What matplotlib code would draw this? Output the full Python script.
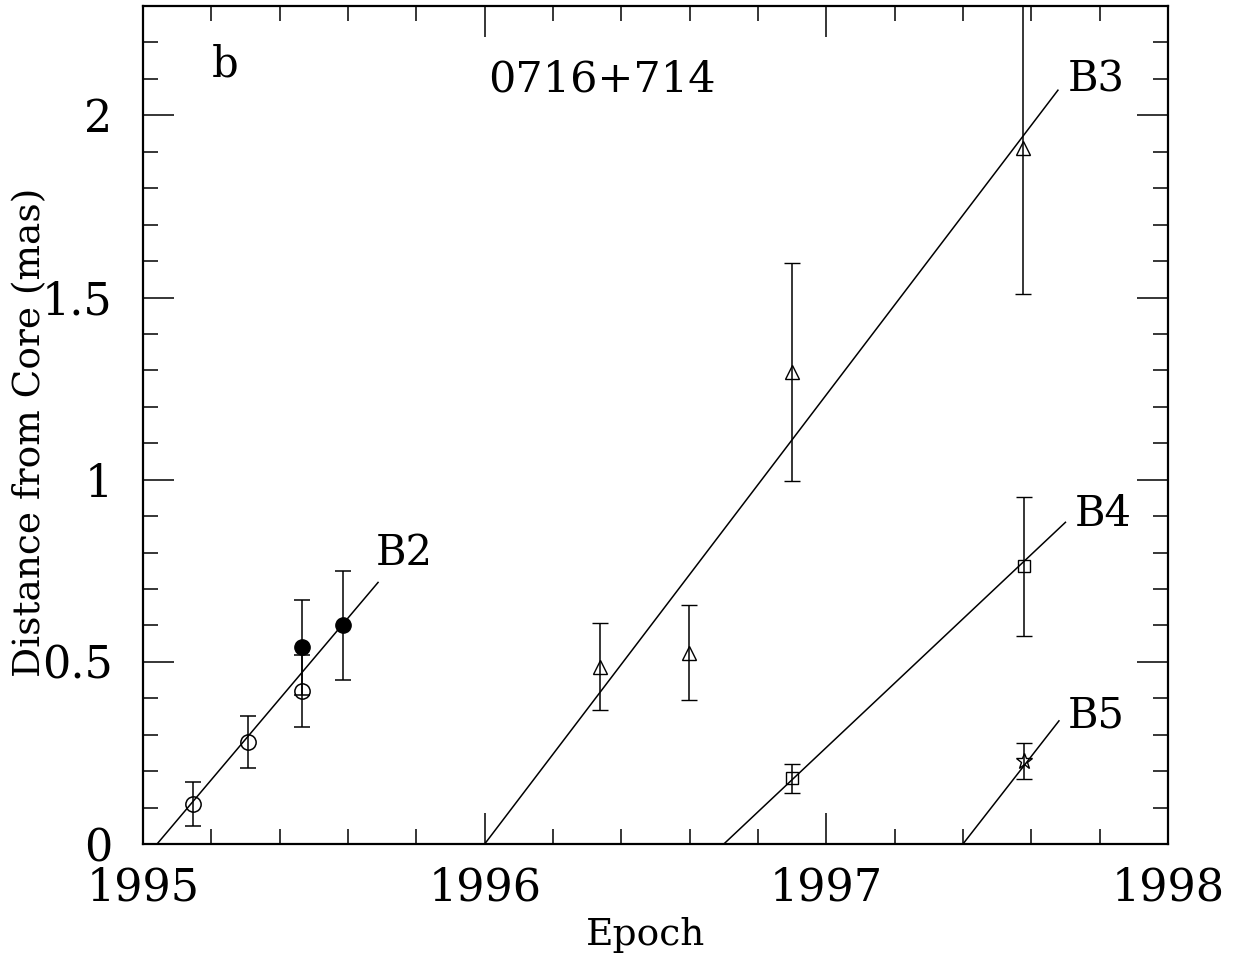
import matplotlib
matplotlib.use("Agg")
import matplotlib.pyplot as plt
from matplotlib.ticker import MultipleLocator, FormatStrFormatter

plt.rcParams['font.family'] = ['DejaVu Serif']

# component B2 (open and filled circles)
b2_open_x = [1995.146, 1995.307, 1995.465]
b2_open_y = [0.11, 0.28, 0.42]
b2_open_err = [0.06, 0.07, 0.10]
b2_fill_x = [1995.465, 1995.585]
b2_fill_y = [0.54, 0.60]
b2_fill_err = [0.13, 0.15]
b2_line_x = [1995.041, 1995.688]
b2_line_y = [0.0, 0.718]

# component B3 (triangles)
b3_x = [1996.337, 1996.598, 1996.899, 1997.575]
b3_y = [0.487, 0.525, 1.296, 1.909]
b3_err = [0.12, 0.13, 0.30, 0.40]
b3_line_x = [1996.0, 1997.678]
b3_line_y = [0.0, 2.069]

# component B4 (squares)
b4_x = [1996.899, 1997.578]
b4_y = [0.18, 0.762]
b4_err = [0.04, 0.19]
b4_line_x = [1996.70, 1997.70]
b4_line_y = [0.0, 0.883]

# component B5 (star)
b5_x = [1997.578]
b5_y = [0.228]
b5_err = [0.05]
b5_line_x = [1997.40, 1997.681]
b5_line_y = [0.0, 0.338]

fig = plt.figure(figsize=(12.35, 9.59), dpi=100)
ax = fig.add_axes([0.1158, 0.1199, 0.8299, 0.8738])

eb = dict(ecolor='black', elinewidth=1.1, capsize=6, capthick=1.1, ls='none', color='black')

ax.errorbar(b2_open_x, b2_open_y, yerr=b2_open_err, marker='o', ms=11, mfc='none', mew=1.1, **eb)
ax.errorbar(b2_fill_x, b2_fill_y, yerr=b2_fill_err, marker='o', ms=11, mfc='black', **eb)
ax.errorbar(b3_x, b3_y, yerr=b3_err, marker='^', ms=10, mfc='none', mew=1.0, **eb)
ax.errorbar(b4_x, b4_y, yerr=b4_err, marker='s', ms=9, mfc='none', mew=1.0, **eb)
ax.errorbar(b5_x, b5_y, yerr=b5_err, marker='*', ms=12, mfc='none', mew=1.0, **eb)

for lx, ly in [(b2_line_x, b2_line_y), (b3_line_x, b3_line_y),
               (b4_line_x, b4_line_y), (b5_line_x, b5_line_y)]:
    ax.plot(lx, ly, color='black', lw=1.1)

ax.text(1995.682, 0.80, 'B2', fontsize=30, va='center', ha='left')
ax.text(1997.707, 2.099, 'B3', fontsize=30, va='center', ha='left')
ax.text(1997.727, 0.905, 'B4', fontsize=30, va='center', ha='left')
ax.text(1997.707, 0.352, 'B5', fontsize=30, va='center', ha='left')
ax.text(1995.24, 2.14, 'b', fontsize=30, ha='center', va='center')
ax.text(1996.343, 2.099, '0716+714', fontsize=31, ha='center', va='center')

ax.set_xlim(1995, 1998)
ax.set_ylim(0, 2.3)
ax.xaxis.set_major_locator(MultipleLocator(1))
ax.xaxis.set_minor_locator(MultipleLocator(0.2))
ax.yaxis.set_major_locator(MultipleLocator(0.5))
ax.yaxis.set_minor_locator(MultipleLocator(0.1))
ax.yaxis.set_major_formatter(FormatStrFormatter('%g'))
ax.tick_params(which='both', direction='in', top=True, right=True, labelsize=32, width=1.1)
ax.tick_params(which='major', length=22)
ax.tick_params(which='minor', length=11)
ax.tick_params(axis='x', which='major', pad=16)
ax.tick_params(axis='y', which='major', pad=22)
for s in ax.spines.values():
    s.set_linewidth(1.6)

ax.set_xlabel('Epoch', fontsize=27, va='center')
ax.xaxis.set_label_coords(0.49, -0.108)
ax.set_ylabel('Distance from Core (mas)', fontsize=27, va='center')
ax.yaxis.set_label_coords(-0.110, 0.4916)

fig.savefig('out.png', dpi=100)
